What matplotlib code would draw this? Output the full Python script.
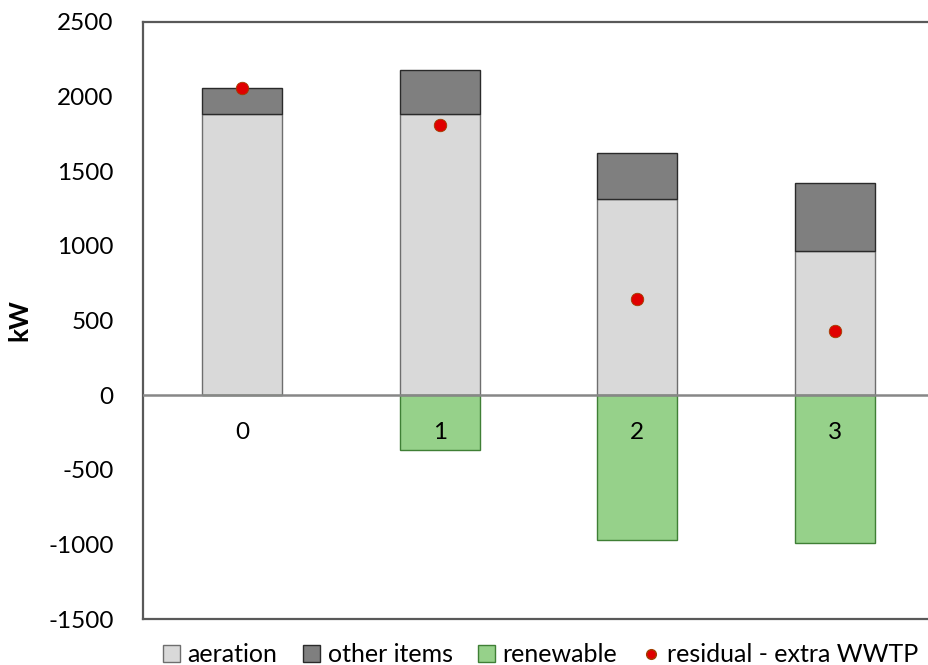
import matplotlib.pyplot as plt
from matplotlib.patches import Patch
from matplotlib.lines import Line2D

categories = ['0', '1', '2', '3']
aeration = [1883, 1883, 1314, 965]
other_items = [175, 295, 308, 456]
renewable = [0, -369, -972, -992]
residual = [2055, 1810, 643, 428]

plt.rcParams['font.family'] = ['Lato', 'DejaVu Sans']
plt.rcParams['axes.unicode_minus'] = False

fig = plt.figure(figsize=(9.29, 6.65), dpi=100)
# plot box runs past the right edge of the picture, as in the original
ax = fig.add_axes([143 / 929, 1 - 619 / 665, 791 / 929, 597 / 665])

x = list(range(len(categories)))
w = 0.405
ax.bar(x, aeration, w, color='#d9d9d9', edgecolor='#6e6e6e', linewidth=1, zorder=2)
ax.bar(x, other_items, w, bottom=aeration, color='#7f7f7f', edgecolor='#2a2a2a',
       linewidth=1, zorder=2)
ax.bar(x, renewable, w, color='#96d18a', edgecolor='#3f7f35', linewidth=1, zorder=2)
ax.plot(x, residual, 'o', color='#e00000', markeredgecolor='#a04000',
        markeredgewidth=0.6, markersize=9, zorder=4)

ax.axhline(0, color='#878787', linewidth=1.8, zorder=3)
for xi, lab in zip(x, categories):
    ax.text(xi, -250, lab, ha='center', va='center', fontsize=17.5, zorder=5)

ax.set_xlim(-0.5, 3.5)
ax.set_ylim(-1500, 2500)
ax.set_yticks(range(-1500, 2501, 500))
ax.set_xticks([])
ax.tick_params(axis='y', length=0, labelsize=17.5, pad=21)
for s in ax.spines.values():
    s.set_color('#595959')
    s.set_linewidth(1.6)
ax.set_ylabel('kW', fontsize=19, fontweight='bold')
ax.yaxis.set_label_coords(-112 / 791, 0.5)

handles = [Patch(facecolor='#d9d9d9', edgecolor='#6e6e6e', label='aeration'),
           Patch(facecolor='#7f7f7f', edgecolor='#2a2a2a', label='other items'),
           Patch(facecolor='#96d18a', edgecolor='#3f7f35', label='renewable'),
           Line2D([], [], marker='o', linestyle='', color='#e00000',
                  markeredgecolor='#a04000', markersize=7, label='residual - extra WWTP')]
fig.legend(handles=handles, loc='lower center', bbox_to_anchor=(0.582, -0.036), ncol=4,
           frameon=False, fontsize=18, handlelength=0.7, handleheight=0.7,
           handletextpad=0.3, columnspacing=1.0)

fig.savefig('out.png', dpi=100)
